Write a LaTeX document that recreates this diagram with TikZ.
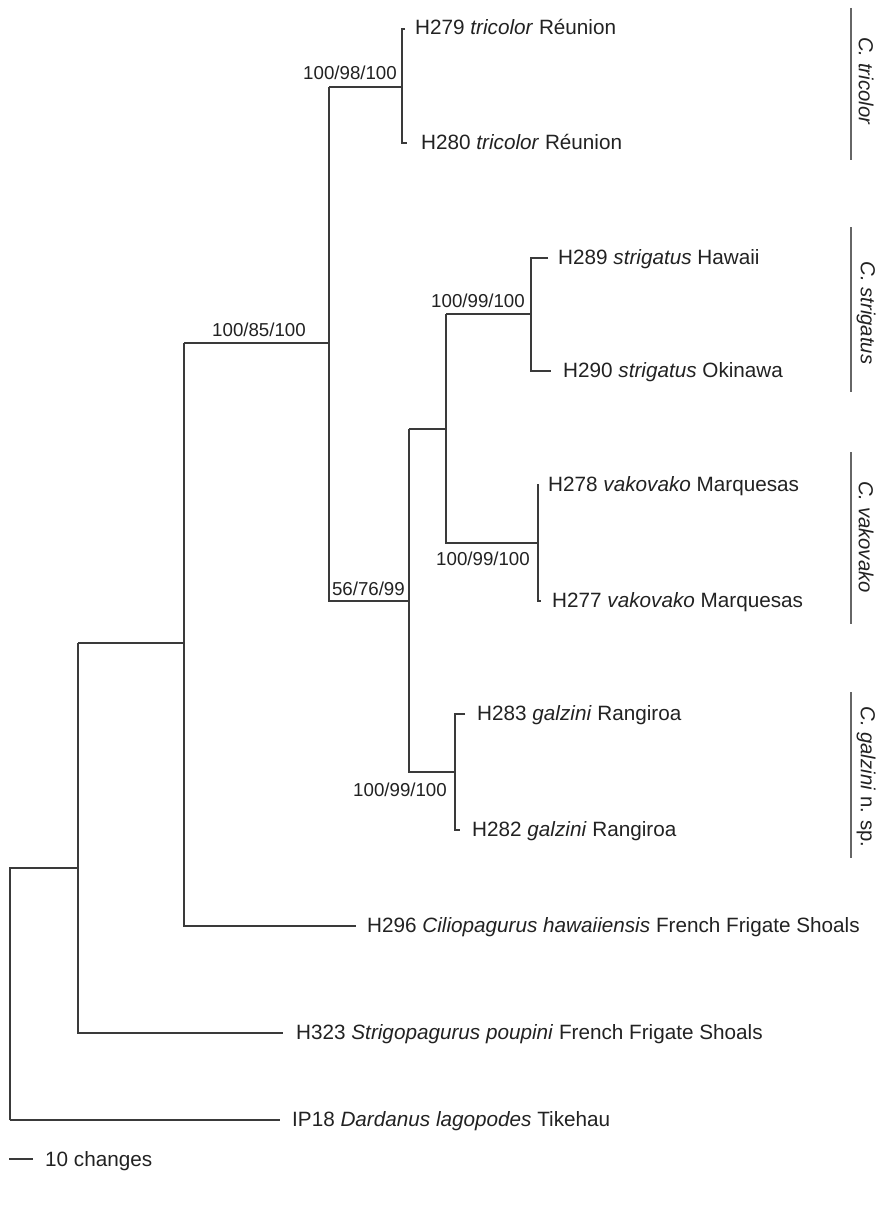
\documentclass[tikz,border=0pt]{standalone}
\usepackage{fontspec}
\setmainfont{Liberation Sans}
\definecolor{linec}{HTML}{3A3A3A}
\definecolor{txtc}{HTML}{222222}
\definecolor{barc}{HTML}{666666}
\tikzset{
  branch/.style={draw=linec, line width=1.3pt},
  cladebar/.style={draw=barc, line width=1.6pt},
  taxon/.style={anchor=base west, inner sep=0pt, text=txtc, font=\fontsize{20.7}{22}\selectfont},
  support/.style={anchor=base east, inner sep=0pt, text=txtc, font=\fontsize{18.7}{20}\selectfont},
  clade/.style={rotate=-90, inner sep=0pt, text=txtc, font=\fontsize{20.3}{22}\selectfont},
  tree node/.style={coordinate}
}
\begin{document}
\begin{tikzpicture}[x=1pt,y=-1pt]
\useasboundingbox[fill=white] (0,0) rectangle (880,1207);

% internal nodes (vertical lines)
\coordinate (R)  at (10,868);
\coordinate (N1) at (78,868);
\coordinate (N2) at (184,643);
\coordinate (N3) at (329,343);
\coordinate (N4) at (402,87);
\coordinate (N5) at (409,601);
\coordinate (N6) at (446,429);
\coordinate (N7) at (531,314);
\coordinate (N8) at (538,543);
\coordinate (N9) at (455,772);

% tip ends
\coordinate (t279) at (405,29);
\coordinate (t280) at (407,143);
\coordinate (t289) at (548,258);
\coordinate (t290) at (551,371);
\coordinate (t278) at (539,485);
\coordinate (t277) at (541,601);
\coordinate (t283) at (465,714);
\coordinate (t282) at (460,830);
\coordinate (t296) at (356,926);
\coordinate (t323) at (283,1033);
\coordinate (tIP) at (280,1120);

% root
\draw[branch] (R |- tIP) -- (R) -- (N1);
\draw[branch] (R |- tIP) -- (tIP);
% N1
\draw[branch] (N1 |- N2) -- (N1 |- t323) -- (t323);
\draw[branch] (N1 |- N2) -- (N2);
% N2
\draw[branch] (N2 |- N3) -- (N2 |- t296) -- (t296);
\draw[branch] (N2 |- N3) -- (N3);
% N3
\draw[branch] (N3 |- N4) -- (N3 |- N5) -- (N5);
\draw[branch] (N3 |- N4) -- (N4);
% N4
\draw[branch] (t279) -- (N4 |- t279) -- (N4 |- t280) -- (t280);
% N5
\draw[branch] (N5 |- N6) -- (N5 |- N9) -- (N9);
\draw[branch] (N5 |- N6) -- (N6);
% N6
\draw[branch] (N6 |- N7) -- (N6 |- N8) -- (N8);
\draw[branch] (N6 |- N7) -- (N7);
% N7
\draw[branch] (t289) -- (N7 |- t289) -- (N7 |- t290) -- (t290);
% N8
\draw[branch] (t278) -- (N8 |- t278) -- (N8 |- t277) -- (t277);
% N9
\draw[branch] (t283) -- (N9 |- t283) -- (N9 |- t282) -- (t282);

% taxon labels
\node[taxon] (L279) at (415,35) {H279 \textit{tricolor} Réunion};
\node[taxon] (L280) at (421,149) {H280 \textit{tricolor} Réunion};
\node[taxon] (L289) at (558,264) {H289 \textit{strigatus} Hawaii};
\node[taxon] (L290) at (563,377) {H290 \textit{strigatus} Okinawa};
\node[taxon] (L278) at (548,491) {H278 \textit{vakovako} Marquesas};
\node[taxon] (L277) at (552,607) {H277 \textit{vakovako} Marquesas};
\node[taxon] (L283) at (477,720) {H283 \textit{galzini} Rangiroa};
\node[taxon] (L282) at (472,836) {H282 \textit{galzini} Rangiroa};
\node[taxon] (L296) at (367,932) {H296 \textit{Ciliopagurus hawaiiensis} French Frigate Shoals};
\node[taxon] (L323) at (296,1039) {H323 \textit{Strigopagurus poupini} French Frigate Shoals};
\node[taxon] (LIP) at (292,1126) {IP18 \textit{Dardanus lagopodes} Tikehau};

% support values
\node[support] (s1) at (306,336) {100/85/100};
\node[support] (s2) at (397,79) {100/98/100};
\node[support] (s3) at (525,307) {100/99/100};
\node[support] (s4) at (405,595) {56/76/99};
\node[support] (s5) at (530,565) {100/99/100};
\node[support] (s6) at (447,796) {100/99/100};

% clade bars and labels
\coordinate (b1a) at (851,8);   \coordinate (b1b) at (851,160);
\coordinate (b2a) at (851,227); \coordinate (b2b) at (851,392);
\coordinate (b3a) at (851,452); \coordinate (b3b) at (851,624);
\coordinate (b4a) at (851,692); \coordinate (b4b) at (851,858);
\draw[cladebar] (b1a) -- (b1b);
\draw[cladebar] (b2a) -- (b2b);
\draw[cladebar] (b3a) -- (b3b);
\draw[cladebar] (b4a) -- (b4b);
\node[clade] (c1) at (866,81) {\textit{C. tricolor}};
\node[clade] (c2) at (866,313) {\textit{C. strigatus}};
\node[clade] (c3) at (866,537) {\textit{C. vakovako}};
\node[clade] (c4) at (866,777) {\textit{C. galzini} n. sp.};

% scale bar
\coordinate (sb1) at (9,1159);
\coordinate (sb2) at (33,1159);
\draw[branch] (sb1) -- (sb2);
\node[taxon] (sbl) at (45,1166) {10 changes};
\end{tikzpicture}
\end{document}
